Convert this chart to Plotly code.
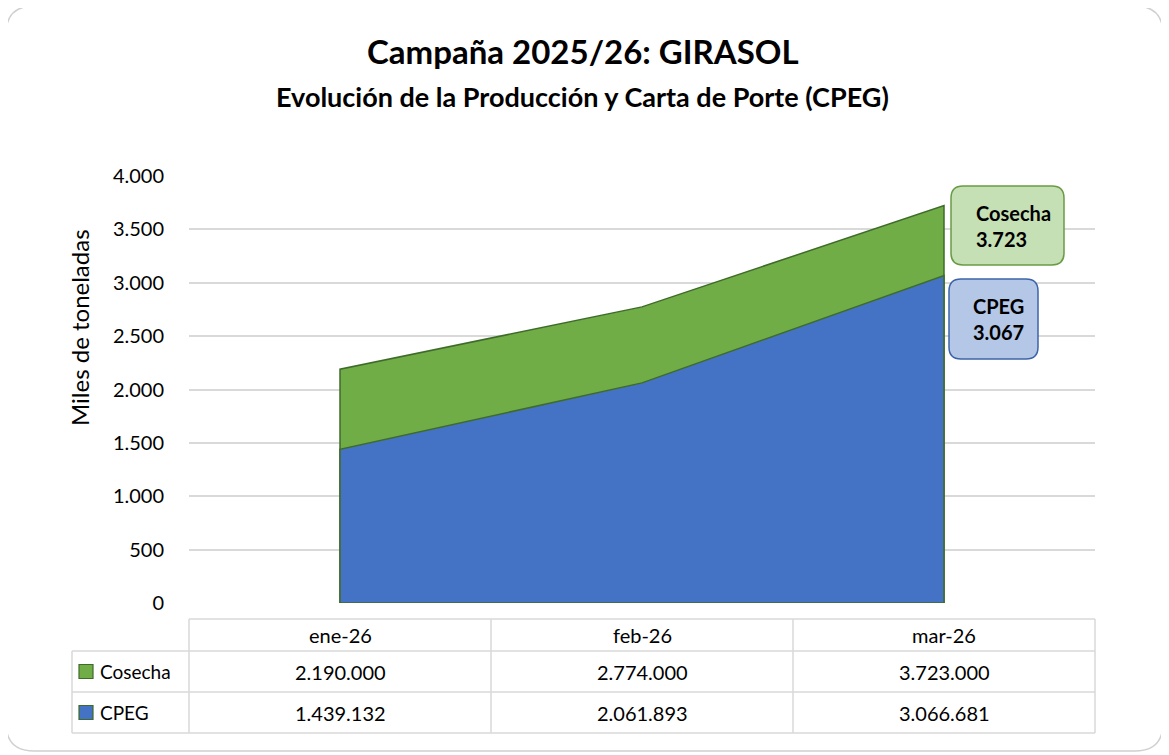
import plotly.graph_objects as go

# ---------------- data ----------------
categories = ["ene-26", "feb-26", "mar-26"]
cosecha_t = [2190000, 2774000, 3723000]      # toneladas
cpeg_t = [1439132, 2061893, 3066681]         # toneladas
y_ticks = [0, 500, 1000, 1500, 2000, 2500, 3000, 3500, 4000]
series_names = ["Cosecha", "CPEG"]

title = "Campaña 2025/26: GIRASOL"
subtitle = "Evolución de la Producción y Carta de Porte (CPEG)"
y_title = "Miles de toneladas"

# ---------------- layout geometry (reference pixels) ----------------
OFF = 8                      # page body margin
W, H = 1169 - OFF, 755 - OFF
L, R, T, B = 189, 1095, 176, 603
FONT = "Lato"

def fx(p):
    return (p - L) / (R - L)

def fy(p):
    return (B - p) / (B - T)

def fmt(v):
    return f"{v:,.0f}".replace(",", ".")

def rrect(x0, y0, x1, y1, r):
    pts = [
        ("M", [(x0 + r, y0)]), ("L", [(x1 - r, y0)]), ("Q", [(x1, y0), (x1, y0 + r)]),
        ("L", [(x1, y1 - r)]), ("Q", [(x1, y1), (x1 - r, y1)]), ("L", [(x0 + r, y1)]),
        ("Q", [(x0, y1), (x0, y1 - r)]), ("L", [(x0, y0 + r)]), ("Q", [(x0, y0), (x0 + r, y0)]),
    ]
    s = ""
    for cmd, ps in pts:
        s += cmd + " " + " ".join(f"{fx(a):.5f},{fy(b):.5f}" for a, b in ps) + " "
    return s + "Z"

green = "#70AD47"
blue = "#4472C4"
outline = "#3F6B2A"

cos_k = [v / 1000 for v in cosecha_t]
cpeg_k = [v / 1000 for v in cpeg_t]

fig = go.Figure()
for vals, col, name in [(cos_k, green, series_names[0]), (cpeg_k, blue, series_names[1])]:
    xs = [categories[0]] + categories + [categories[-1], categories[0]]
    ys = [0] + vals + [0, 0]
    fig.add_trace(go.Scatter(
        x=xs, y=ys, mode="lines", fill="toself", fillcolor=col,
        line=dict(color=outline, width=1.5), name=name, showlegend=False,
        hoverinfo="skip"))

shapes = []
annotations = []

# outer rounded border
shapes.append(dict(type="path", xref="paper", yref="paper", path=rrect(6, 6, 1163, 751, 28),
                   line=dict(color="#D0D0D0", width=1.5), fillcolor="rgba(0,0,0,0)", layer="below"))

# titles
annotations.append(dict(xref="paper", yref="paper", x=fx(583), y=fy(51), text=f"<b>{title}</b>",
                        showarrow=False, font=dict(family=FONT, size=33, color="#000000"),
                        xanchor="center", yanchor="middle"))
annotations.append(dict(xref="paper", yref="paper", x=fx(582), y=fy(96), text=f"<b>{subtitle}</b>",
                        showarrow=False, font=dict(family=FONT, size=27, color="#000000"),
                        xanchor="center", yanchor="middle"))
annotations.append(dict(xref="paper", yref="paper", x=fx(79), y=fy(328), text=y_title,
                        textangle=-90, showarrow=False, font=dict(family=FONT, size=24, color="#000000"),
                        xanchor="center", yanchor="middle"))

# callout boxes
shapes.append(dict(type="path", xref="paper", yref="paper", path=rrect(951, 186, 1064, 265, 12),
                   line=dict(color="#6A9A45", width=1.5), fillcolor="#C5E0B4"))
shapes.append(dict(type="path", xref="paper", yref="paper", path=rrect(949, 279, 1038, 359, 12),
                   line=dict(color="#3D64A8", width=1.5), fillcolor="#B4C7E7"))
annotations.append(dict(xref="paper", yref="paper", x=fx(974), y=fy(226),
                        text=f"<b>{series_names[0]}<br>{fmt(cosecha_t[-1] / 1000)}</b>",
                        showarrow=False, align="left", xanchor="left", yanchor="middle",
                        font=dict(family=FONT, size=20, color="#000000")))
annotations.append(dict(xref="paper", yref="paper", x=fx(971), y=fy(319),
                        text=f"<b>{series_names[1]}<br>{fmt(cpeg_t[-1] / 1000)}</b>",
                        showarrow=False, align="left", xanchor="left", yanchor="middle",
                        font=dict(family=FONT, size=20, color="#000000")))

# data table
grid = "#D9D9D9"
hdr_top, hdr_bot, r1_bot, r2_bot = 619, 651, 692, 733
tbl_left = 72
colw = (R - L) / len(categories)

def hline(x0, x1, y):
    shapes.append(dict(type="line", xref="paper", yref="paper", x0=fx(x0), x1=fx(x1), y0=fy(y), y1=fy(y),
                       line=dict(color=grid, width=1.5)))

def vline(x, y0, y1):
    shapes.append(dict(type="line", xref="paper", yref="paper", x0=fx(x), x1=fx(x), y0=fy(y0), y1=fy(y1),
                       line=dict(color=grid, width=1.5)))

hline(L, R, hdr_top)
hline(tbl_left, R, hdr_bot)
hline(tbl_left, R, r1_bot)
hline(tbl_left, R, r2_bot)
vline(tbl_left, hdr_bot, r2_bot)
for i in range(len(categories) + 1):
    vline(L + i * colw, hdr_top, r2_bot)

TBL_FONT = 20
row_centers = [(hdr_bot + r1_bot) / 2, (r1_bot + r2_bot) / 2]
for i, c in enumerate(categories):
    cx = L + (i + 0.5) * colw
    annotations.append(dict(xref="paper", yref="paper", x=fx(cx), y=fy((hdr_top + hdr_bot) / 2),
                            text=c, showarrow=False, font=dict(family=FONT, size=TBL_FONT, color="#000000"),
                            xanchor="center", yanchor="middle"))
    for vals, yc in [(cosecha_t, row_centers[0]), (cpeg_t, row_centers[1])]:
        annotations.append(dict(xref="paper", yref="paper", x=fx(cx), y=fy(yc),
                                text=fmt(vals[i]), showarrow=False,
                                font=dict(family=FONT, size=TBL_FONT, color="#000000"),
                                xanchor="center", yanchor="middle"))

for name, col, yc in [(series_names[0], green, row_centers[0]), (series_names[1], blue, row_centers[1])]:
    shapes.append(dict(type="rect", xref="paper", yref="paper", x0=fx(79), x1=fx(93),
                       y0=fy(yc - 7), y1=fy(yc + 7), fillcolor=col, line=dict(color=outline, width=1.2)))
    annotations.append(dict(xref="paper", yref="paper", x=fx(98), y=fy(yc), text=name, showarrow=False,
                            font=dict(family=FONT, size=19, color="#000000"),
                            xanchor="left", yanchor="middle"))

fig.update_layout(
    width=W, height=H,
    margin=dict(l=L - OFF, r=(OFF + W) - R, t=T - OFF, b=(OFF + H) - B, pad=0),
    paper_bgcolor="white", plot_bgcolor="white",
    separators=",.",
    shapes=shapes, annotations=annotations,
    xaxis=dict(type="category", categoryorder="array", categoryarray=categories,
               range=[-0.5, len(categories) - 0.5], showticklabels=False, showgrid=False,
               zeroline=False, showline=False, ticks=""),
    yaxis=dict(range=[0, 4000], tickvals=y_ticks, tickformat=",d", showgrid=True,
               gridcolor=grid, gridwidth=1.5, zeroline=False, showline=False,
               ticks="", ticklabelstandoff=24,
               tickfont=dict(family=FONT, size=20, color="#000000")),
    font=dict(family=FONT),
)

fig.write_html("out.html")
